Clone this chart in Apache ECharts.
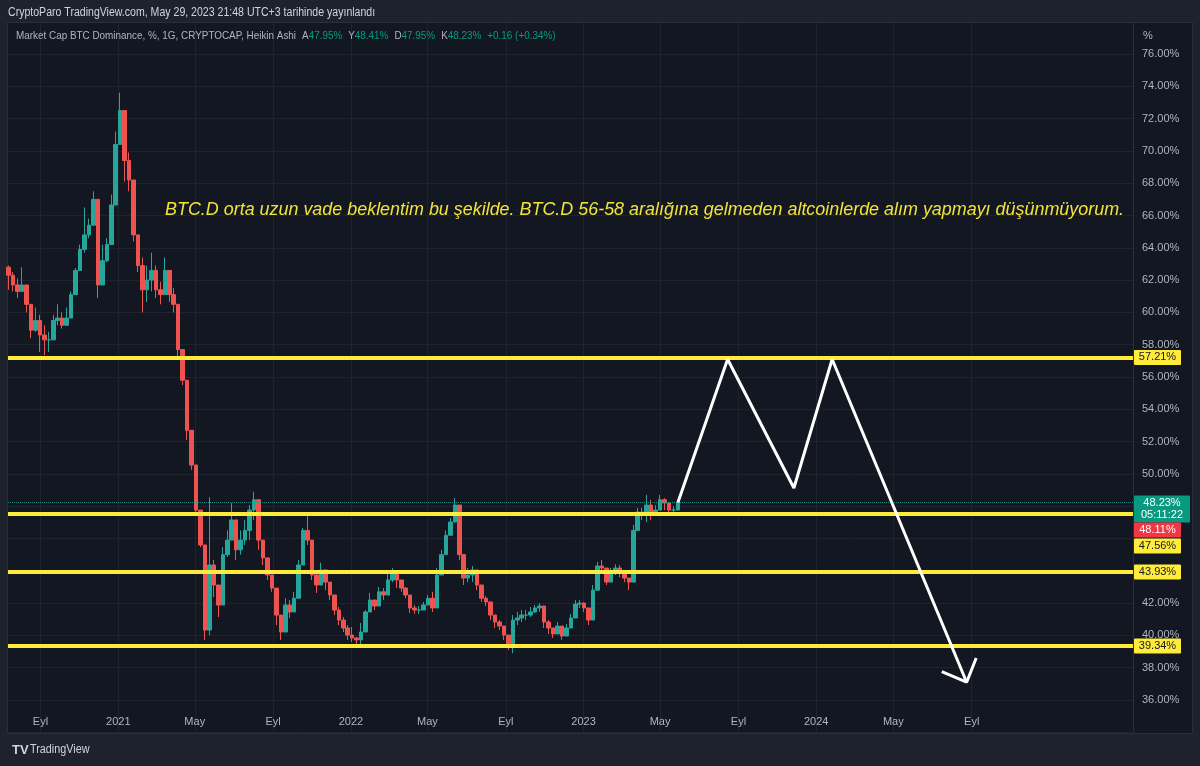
<!DOCTYPE html>
<html>
<head>
<meta charset="utf-8">
<script src="https://cdn.jsdelivr.net/npm/echarts@6/dist/echarts.min.js"></script>
<style>
  html, body { margin: 0; padding: 0; background: #131722; }
  #main { width: 1200px; height: 766px; }
</style>
</head>
<body>
<div id="main"></div>
<script>
// gün 0 = 1 Ocak 2021, haftalık Heikin Ashi mumları
var startDay = -172;
var stepDays = 7;
var firstOpen = 62.8;

var closes = [
  62.3, 61.7, 61.3, 61.7, 60.5, 58.9, 59.5, 58.6, 58.3, 58.3,
  59.5, 59.65, 59.2, 59.65, 61.1, 62.6, 63.9, 64.8, 65.4, 67.0,
  61.7, 63.2, 64.2, 66.65, 70.4, 72.5, 69.4, 68.2, 64.8, 62.9,
  61.4, 62.0, 62.6, 61.4, 61.1, 62.6, 61.1, 60.5, 57.7, 55.8,
  52.7, 50.55, 47.76, 45.6, 40.33, 44.36, 43.12, 41.88, 45.0, 45.9,
  47.15, 45.3, 45.9, 46.5, 47.76, 48.4, 45.9, 44.8, 43.74, 42.93,
  41.26, 40.21, 41.88, 41.45, 42.3, 44.36, 46.5, 45.9, 43.74, 43.12,
  44.05, 43.3, 42.5, 41.57, 40.95, 40.46, 40.02, 39.84, 39.72, 40.21,
  41.45, 42.19, 41.82, 42.7, 42.5, 43.43, 43.93, 43.43, 42.93, 42.5,
  41.7, 41.57, 41.57, 41.88, 42.3, 41.7, 43.74, 45.0, 46.2, 47.02,
  48.07, 45.0, 43.55, 43.74, 44.05, 43.12, 42.3, 42.07, 41.26, 40.83,
  40.58, 40.02, 39.4, 40.95, 41.08, 41.26, 41.26, 41.45, 41.7, 41.82,
  40.83, 40.46, 40.09, 40.58, 39.96, 40.46, 41.08, 41.94, 42.0, 41.7,
  40.95, 42.8, 44.3, 44.17, 43.3, 43.93, 44.17, 43.93, 43.55, 43.3,
  46.5, 47.64, 47.45, 48.07, 47.45, 47.76, 48.4, 48.2, 47.76, 47.76, 48.23
];
var highs = [
  62.9, 62.5, 62.1, 62.8, 61.7, 60.0, 60.3, 59.85, 59.2, 58.8,
  59.85, 60.5, 60.0, 60.3, 61.3, 62.75, 64.2, 66.5, 65.8, 67.5,
  63.4, 64.2, 64.6, 67.3, 71.2, 73.6, 70.4, 69.9, 66.2, 64.2,
  63.4, 62.9, 63.7, 62.9, 61.9, 63.4, 62.1, 61.5, 58.9, 57.25,
  54.75, 52.1, 49.6, 47.33, 45.3, 48.55, 44.67, 42.8, 45.47, 46.5,
  48.2, 46.5, 46.5, 47.15, 48.07, 48.9, 46.84, 45.3, 44.67, 43.74,
  42.5, 41.26, 42.3, 42.19, 42.7, 44.67, 46.65, 47.64, 44.67, 44.05,
  44.5, 44.05, 43.24, 42.38, 41.76, 41.14, 40.64, 40.52, 39.9, 40.77,
  41.57, 42.63, 42.19, 43.0, 42.93, 43.8, 44.17, 43.74, 43.43, 43.0,
  42.19, 41.88, 41.82, 42.07, 42.5, 42.7, 44.17, 45.3, 46.5, 47.27,
  48.5, 46.84, 44.36, 44.17, 44.3, 43.74, 42.8, 42.44, 41.88, 41.26,
  40.95, 40.52, 39.84, 41.26, 41.45, 41.57, 41.57, 41.76, 41.88, 42.0,
  41.26, 40.95, 40.46, 40.83, 40.33, 40.7, 41.33, 42.19, 42.19, 42.07,
  41.45, 43.12, 44.55, 44.67, 43.93, 44.17, 44.4, 44.36, 43.8, 43.55,
  46.84, 47.9, 47.9, 48.7, 48.4, 48.07, 48.7, 48.5, 48.07, 48.0, 48.41
];
var lows = [
  61.4, 61.3, 60.9, 61.4, 60.0, 58.4, 58.8, 57.55, 57.35, 57.55,
  58.4, 59.2, 59.0, 59.2, 59.65, 61.7, 62.9, 63.7, 64.6, 65.4,
  60.9, 62.5, 63.1, 64.8, 68.9, 71.0, 68.1, 67.5, 64.4, 62.5,
  60.0, 60.65, 61.3, 60.9, 60.5, 61.7, 60.65, 60.0, 57.25, 55.5,
  52.1, 50.25, 47.45, 45.47, 39.72, 40.0, 42.38, 41.14, 44.05, 44.85,
  46.5, 44.67, 45.0, 45.6, 45.9, 47.15, 45.3, 44.36, 43.43, 42.7,
  40.64, 39.72, 40.83, 41.08, 41.7, 43.43, 44.85, 45.6, 43.43, 42.63,
  43.24, 42.8, 42.19, 41.26, 40.64, 40.21, 39.72, 39.59, 39.28, 39.28,
  40.33, 41.76, 41.57, 42.19, 42.19, 42.7, 43.3, 42.93, 42.7, 42.3,
  41.39, 41.33, 41.33, 41.57, 41.88, 41.45, 42.8, 44.36, 45.6, 46.4,
  47.45, 44.67, 43.12, 43.3, 43.3, 42.8, 42.07, 41.82, 40.95, 40.46,
  40.33, 39.72, 39.1, 38.9, 40.64, 40.83, 40.95, 41.14, 41.39, 41.45,
  40.46, 40.09, 39.84, 40.09, 39.72, 40.09, 40.7, 41.57, 41.7, 41.45,
  40.64, 42.07, 43.43, 43.93, 43.12, 43.43, 43.74, 43.6, 43.3, 42.8,
  44.36, 47.02, 47.15, 47.02, 47.15, 47.45, 47.9, 47.76, 47.45, 47.58, 47.95
];

// beklenen yol (beyaz ok)
var projDays = [878, 956, 1060, 1120, 1331];
var projValues = [48.23, 57.1, 49.13, 57.1, 37.1];
var arrowDays = [1292, 1331, 1346];
var arrowValues = [37.75, 37.1, 38.6];

// yatay seviyeler
var levels = [57.21, 47.56, 43.93, 39.34];
var lastPrice = 48.23;
var prevClose = 48.11;

// zaman ekseni
var tickDays = [-122, 0, 120, 243, 365, 485, 608, 730, 850, 973, 1095, 1216, 1339];
var tickLabels = ['Eyl', '2021', 'May', 'Eyl', '2022', 'May', 'Eyl', '2023', 'May', 'Eyl', '2024', 'May', 'Eyl'];

var FONT = '"Liberation Sans", Arial, sans-serif';
var up = '#26a69a';
var down = '#ef5350';
var yellow = '#ffeb3b';

var candles = closes.map(function (c, i) {
  var o = i === 0 ? firstOpen : closes[i - 1];
  return [startDay + i * stepDays, o, c, Math.min(lows[i], o, c), Math.max(highs[i], o, c)];
});

var chartDom = document.getElementById('main');
var myChart = echarts.init(chartDom);
var option;

option = {
  backgroundColor: '#131722',
  animation: false,
  grid: { left: 8, right: 67, top: 21.7, bottom: 33.7 },
  xAxis: {
    type: 'value',
    min: -173,
    max: 1592,
    axisLine: { show: false },
    axisTick: { show: false, customValues: tickDays },
    axisLabel: {
      customValues: tickDays,
      color: '#b2b5be',
      fontSize: 11,
      fontFamily: FONT,
      margin: -10,
      verticalAlign: 'middle',
      formatter: function (v) {
        var k = tickDays.indexOf(Math.round(v));
        return k >= 0 ? tickLabels[k] : '';
      }
    },
    splitLine: { show: true, lineStyle: { color: '#1f232e', width: 1 } }
  },
  yAxis: {
    type: 'value',
    position: 'right',
    min: 34,
    max: 78,
    interval: 2,
    axisLine: { show: true, onZero: false, lineStyle: { color: '#2a2e39' } },
    axisTick: { show: false },
    axisLabel: {
      color: '#b2b5be',
      fontSize: 11,
      fontFamily: FONT,
      margin: 9,
      formatter: function (v) {
        if (v === 34 || v === 78 || v === 44 || v === 46 || v === 48) return '';
        return v.toFixed(2) + '%';
      }
    },
    splitLine: { show: true, lineStyle: { color: '#1f232e', width: 1 } }
  },
  series: [
    {
      type: 'candlestick',
      data: candles,
      encode: { x: 0, y: [1, 2, 3, 4] },
      barWidth: 4,
      itemStyle: {
        color: up,
        color0: down,
        borderColor: up,
        borderColor0: down,
        borderWidth: 1
      },
      markLine: {
        silent: true,
        symbol: 'none',
        label: { show: false },
        data: levels.map(function (v) {
          return { yAxis: v, lineStyle: { color: yellow, width: 4, type: 'solid' } };
        }).concat([
          { yAxis: lastPrice, lineStyle: { color: up, width: 1, type: 'dotted', opacity: 0.8 } }
        ])
      }
    },
    {
      type: 'line',
      data: projDays.map(function (d, i) { return [d, projValues[i]]; }),
      symbol: 'none',
      z: 5,
      lineStyle: { color: '#ffffff', width: 3 }
    },
    {
      type: 'line',
      data: arrowDays.map(function (d, i) { return [d, arrowValues[i]]; }),
      symbol: 'none',
      z: 5,
      lineStyle: { color: '#ffffff', width: 3 }
    }
  ]
};

option && myChart.setOption(option);

// kenar şeritleri, başlıklar ve fiyat kutuları
var frame = '#1e222d';
var g = [
  { type: 'rect', shape: { x: 0, y: 0, width: 1200, height: 22 }, style: { fill: frame } },
  { type: 'rect', shape: { x: 0, y: 733, width: 1200, height: 33 }, style: { fill: frame } },
  { type: 'rect', shape: { x: 0, y: 0, width: 8, height: 766 }, style: { fill: frame } },
  { type: 'rect', shape: { x: 1192, y: 0, width: 8, height: 766 }, style: { fill: frame } },
  { type: 'rect', shape: { x: 7.5, y: 22.5, width: 1185, height: 711 }, style: { fill: 'none', stroke: '#2a2e39', lineWidth: 1 } },
  {
    type: 'text', x: 8, y: 13, scaleX: 0.88,
    style: { text: 'CryptoParo TradingView.com, May 29, 2023 21:48 UTC+3 tarihinde yayınlandı', fill: '#d1d4dc', font: '12px ' + FONT, verticalAlign: 'middle' }
  },
  {
    type: 'text', x: 16, y: 36, scaleX: 0.9,
    style: {
      text: '{t|Market Cap BTC Dominance, %, 1G, CRYPTOCAP, Heikin Ashi}  {t|A}{v|47.95%}  {t|Y}{v|48.41%}  {t|D}{v|47.95%}  {t|K}{v|48.23%}  {v|+0.16 (+0.34%)}',
      verticalAlign: 'middle',
      rich: {
        t: { fill: '#b2b5be', font: '11px ' + FONT },
        v: { fill: '#089981', font: '11px ' + FONT }
      }
    }
  },
  {
    type: 'text', x: 165, y: 210, scaleX: 0.943,
    style: {
      text: 'BTC.D orta uzun vade beklentim bu şekilde. BTC.D 56-58 aralığına gelmeden altcoinlerde alım yapmayı düşünmüyorum.',
      fill: '#f2e33a', font: 'italic 19px ' + FONT, verticalAlign: 'middle'
    }
  },
  { type: 'text', x: 1143, y: 36, style: { text: '%', fill: '#b2b5be', font: '11px ' + FONT, verticalAlign: 'middle' } },
  { type: 'text', x: 12, y: 750, style: { text: 'TV', fill: '#d1d4dc', font: 'bold 13px ' + FONT, verticalAlign: 'middle' } },
  { type: 'text', x: 30, y: 750, scaleX: 0.9, style: { text: 'TradingView', fill: '#d1d4dc', font: '12px ' + FONT, verticalAlign: 'middle' } }
];

function box(top, w, h, bg, fg, text) {
  g.push({ type: 'rect', z: 20, shape: { x: 1134, y: top, width: w, height: h, r: 1 }, style: { fill: bg } });
  g.push({ type: 'text', z: 21, x: 1134 + w / 2, y: top + h / 2, style: { text: text, fill: fg, font: '11px ' + FONT, align: 'center', verticalAlign: 'middle', lineHeight: 12 } });
}
function py(v) { return myChart.convertToPixel({ yAxisIndex: 0 }, v); }

box(py(57.21) - 7.5, 47, 15, yellow, '#131722', '57.21%');
box(py(43.93) - 7.5, 47, 15, yellow, '#131722', '43.93%');
box(py(39.34) - 7.5, 47, 15, yellow, '#131722', '39.34%');
var gTop = py(lastPrice) - 7;
box(gTop, 56, 27, '#089981', '#ffffff', lastPrice.toFixed(2) + '%\n05:11:22');
box(gTop + 27, 47, 15, '#f23645', '#ffffff', prevClose.toFixed(2) + '%');
box(gTop + 43, 47, 15, yellow, '#131722', '47.56%');

myChart.setOption({ graphic: { elements: g } });
</script>
</body>
</html>
